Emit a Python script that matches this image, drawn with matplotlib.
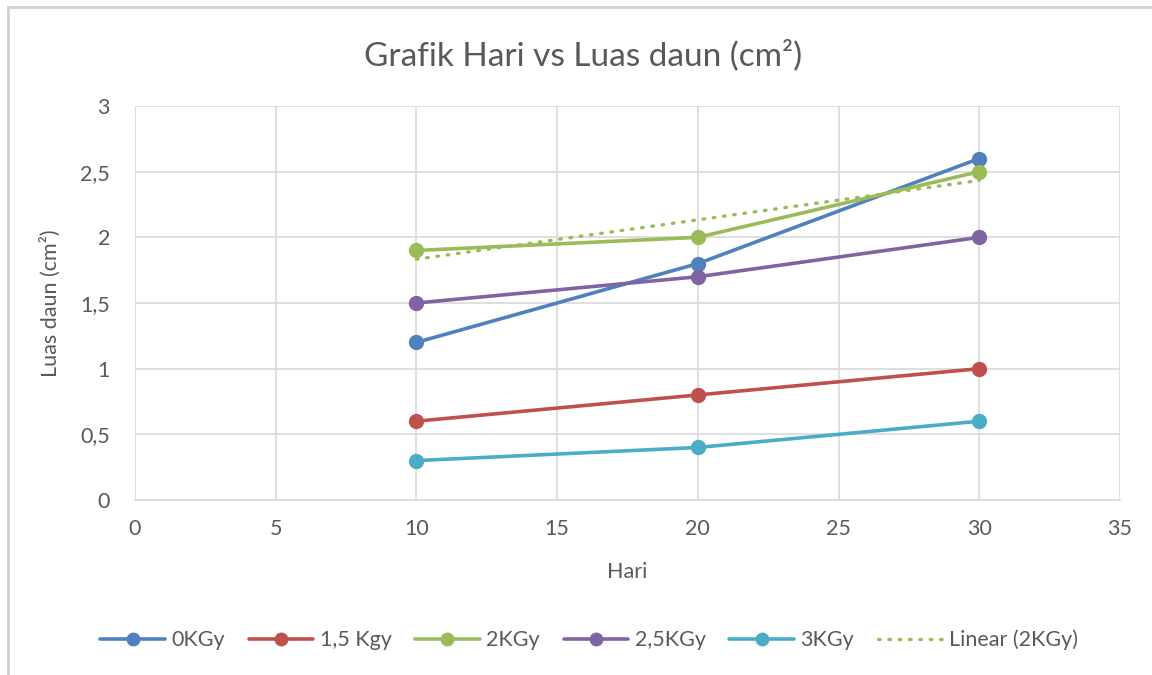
import numpy as np
import matplotlib
matplotlib.use('Agg')
import matplotlib.pyplot as plt
from matplotlib.ticker import FuncFormatter, MultipleLocator

plt.rcParams['font.family'] = ['Lato', 'DejaVu Sans']

# Data
hari = [10, 20, 30]
series_names = ['0KGy', '1,5 Kgy', '2KGy', '2,5KGy', '3KGy']
kgy0 = [1.2, 1.8, 2.6]
kgy15 = [0.6, 0.8, 1.0]
kgy2 = [1.9, 2.0, 2.5]
kgy25 = [1.5, 1.7, 2.0]
kgy3 = [0.3, 0.4, 0.6]
colors = ['#4F81BD', '#C0504D', '#9BBB59', '#8064A2', '#4BACC6']

text_col = '#595959'
grid_col = '#D9D9D9'

fig = plt.figure(figsize=(11.52, 6.75), dpi=100)
ax = fig.add_axes([135/1152, 1 - 500/675, (1120 - 135)/1152, (500 - 106)/675])

for name, ys, c in zip(series_names, [kgy0, kgy15, kgy2, kgy25, kgy3], colors):
    ax.plot(hari, ys, color=c, lw=2.6, marker='o', ms=10, label=name,
            solid_capstyle='round', zorder=3)

# linear trendline for 2KGy
slope, icpt = np.polyfit(hari, kgy2, 1)
xs = np.array([hari[0], hari[-1]])
ax.plot(xs, slope * xs + icpt, color=colors[2], lw=2.4, ls=(0, (0.5, 2.6)),
        dash_capstyle='round', label='Linear (2KGy)', zorder=2)

ax.set_xlim(0, 35)
ax.set_ylim(0, 3)
ax.xaxis.set_major_locator(MultipleLocator(5))
ax.yaxis.set_major_locator(MultipleLocator(0.5))
ax.yaxis.set_major_formatter(FuncFormatter(lambda v, p: ('%g' % v).replace('.', ',')))
ax.grid(True, color=grid_col, lw=1.2, zorder=0)
ax.set_axisbelow(True)
for s in ['top', 'right', 'left']:
    ax.spines[s].set_visible(False)
ax.spines['bottom'].set_color(grid_col)
ax.spines['bottom'].set_linewidth(1.2)
ax.tick_params(length=0, labelsize=15.5, colors=text_col, pad=14)
ax.tick_params(axis='y', pad=18)

ax.set_xlabel('Hari', fontsize=15.5, color=text_col, labelpad=16)
ax.set_ylabel('Luas daun (cm²)', fontsize=15.5, color=text_col, labelpad=14)
fig.text(583/1152, 1 - 55/675, 'Grafik Hari vs Luas daun (cm²)', fontsize=24,
         color=text_col, ha='center', va='center')

leg = fig.legend(loc='center', bbox_to_anchor=(589/1152, 1 - 640/675), ncol=6,
                 frameon=False, fontsize=15.5, handlelength=3.0, columnspacing=1.1,
                 handletextpad=0.3, markerscale=0.9)
for t in leg.get_texts():
    t.set_color(text_col)

# chart frame (left and top edges)
fig.add_artist(plt.Line2D([8/1152, 8/1152], [0, 1 - 7/675], color='#D0D0D0', lw=2))
fig.add_artist(plt.Line2D([8/1152, 1], [1 - 7/675, 1 - 7/675], color='#D0D0D0', lw=2))

fig.savefig('out.png', dpi=100)
